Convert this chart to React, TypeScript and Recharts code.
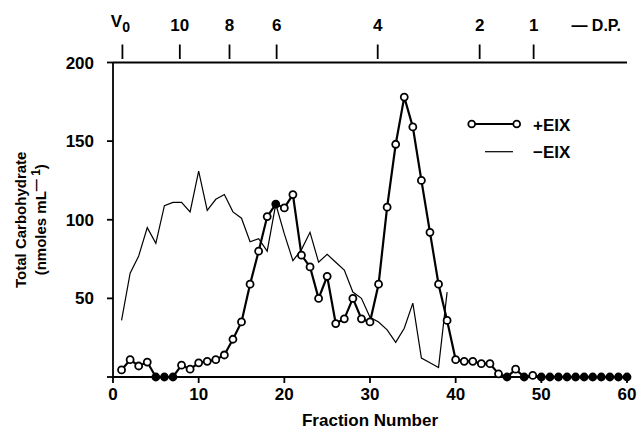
import React from 'react';
import { LineChart, Line, XAxis, YAxis, Legend } from 'recharts';

const fractions = [
  1, 2, 3, 4, 5, 6, 7, 8, 9, 10,
  11, 12, 13, 14, 15, 16, 17, 18, 19, 20,
  21, 22, 23, 24, 25, 26, 27, 28, 29, 30,
  31, 32, 33, 34, 35, 36, 37, 38, 39, 40,
  41, 42, 43, 44, 45, 46, 47, 48, 49, 50,
  51, 52, 53, 54, 55, 56, 57, 58, 59, 60,
];

const plusEIX = [
  4.5, 11, 7, 9.5, 0, 0, 0, 7.5, 5, 9,
  10, 11, 14, 24, 35, 59, 80, 102, 110, 107.5,
  116, 77.5, 70, 50, 64, 34, 37, 50, 37, 35,
  59, 108, 148, 178, 159, 125, 92, 59, 36, 11,
  10, 10, 8.5, 8.5, 2, 0, 5, 0, 1, 0,
  0, 0, 0, 0, 0, 0, 0, 0, 0, 0,
];

const minusEIX = [
  36, 66, 77, 95, 85, 109, 111, 111, 105, 131,
  106, 113, 116, 105, 101, 86, 88, 80, 110, 91,
  74, 81, 92, 73, 78, 73, 68, 54, 50, 38,
  35, 30, 22, 31, 47, 12, 9, 6, 54,
];

const filledFractions = [5, 6, 7, 19, 46, 48, 50, 51, 52, 53, 54, 55, 56, 57, 58, 59, 60];

const xTicks = [0, 10, 20, 30, 40, 50, 60];
const yTicks = [0, 50, 100, 150, 200];
const dpTickPositions = [1.1, 7.8, 13.6, 19.1, 30.9, 42.8, 49.1, 56.4];
const dpTickLabels = ['V0', '10', '8', '6', '4', '2', '1', '— D.P.'];

const seriesNames = { plus: '+EIX', minus: '−EIX' };

const data = fractions.map((f, i) => ({
  fraction: f,
  plus: plusEIX[i],
  minus: i < minusEIX.length ? minusEIX[i] : null,
}));

const FONT = "'Liberation Sans', Arial, sans-serif";

function TopTick(props: any) {
  const { x, y, payload } = props;
  const idx = dpTickPositions.indexOf(payload.value);
  const label = dpTickLabels[idx];
  if (label === '— D.P.') {
    return (
      <text x={x} y={y - 32} textAnchor="middle" fontFamily={FONT} fontWeight={700} fontSize={16} fill="#000">
        {label}
      </text>
    );
  }
  const isV0 = label === 'V0';
  return (
    <g>
      <line x1={x} x2={x} y1={y - 18} y2={y - 3.5} stroke="#000" strokeWidth={1.8} />
      {isV0 ? (
        <text x={x - 2} y={y - 36} textAnchor="middle" fontFamily={FONT} fontWeight={700} fontSize={17} fill="#000">
          <tspan>V</tspan>
          <tspan dy={5} fontSize={14}>0</tspan>
        </text>
      ) : (
        <text x={x} y={y - 31.5} textAnchor="middle" fontFamily={FONT} fontWeight={700} fontSize={17} fill="#000">
          {label}
        </text>
      )}
    </g>
  );
}

function YTitle(props: any) {
  const vb = props.viewBox || { x: 0, y: 62, width: 113, height: 315 };
  const cy = vb.y + vb.height / 2;
  const x1 = 26;
  const x2 = 46;
  return (
    <g fontFamily={FONT} fontWeight={700} fontSize={15} fill="#000">
      <text x={x1} y={cy} textAnchor="middle" transform={`rotate(-90, ${x1}, ${cy})`}>
        Total Carbohydrate
      </text>
      <text x={x2} y={cy} textAnchor="middle" transform={`rotate(-90, ${x2}, ${cy})`}>
        <tspan>(nmoles mL</tspan>
        <tspan dy={-6} fontSize={12}>— 1</tspan>
        <tspan dy={6}>)</tspan>
      </text>
    </g>
  );
}

function LegendContent(props: any) {
  const payload: any[] = props.payload || [];
  const nameOf = (key: string) => {
    const p = payload.find((e) => e.dataKey === key);
    return p && p.value ? p.value : (seriesNames as any)[key];
  };
  return (
    <svg width={140} height={60} style={{ overflow: 'visible' }}>
      <line x1={15} x2={53} y1={19} y2={19} stroke="#000" strokeWidth={2} />
      <circle cx={11.7} cy={19} r={3.4} fill="#fff" stroke="#000" strokeWidth={1.8} />
      <circle cx={56.7} cy={19} r={3.4} fill="#fff" stroke="#000" strokeWidth={1.8} />
      <text x={73} y={25.5} fontFamily={FONT} fontWeight={700} fontSize={17} fill="#000">
        {nameOf('plus')}
      </text>
      <line x1={25} x2={53} y1={46.7} y2={46.7} stroke="#000" strokeWidth={1.2} />
      <text x={73} y={53} fontFamily={FONT} fontWeight={700} fontSize={17} fill="#000">
        {nameOf('minus')}
      </text>
    </svg>
  );
}

const renderDot = (props: any) => {
  const { cx, cy, payload, index } = props;
  if (cx == null || cy == null || payload == null || payload.plus == null) {
    return <g key={`dot-${index}`} />;
  }
  const filled = filledFractions.includes(payload.fraction);
  return (
    <circle
      key={`dot-${index}`}
      cx={cx}
      cy={cy}
      r={3.5}
      fill={filled ? '#000' : '#fff'}
      stroke="#000"
      strokeWidth={1.8}
    />
  );
};

const tickStyle = { fill: '#000', fontSize: 17, fontWeight: 700, fontFamily: FONT };

export default function App() {
  return (
    <div style={{ position: 'absolute', left: 0, top: 0, width: 637, height: 429, background: '#fff' }}>
      <LineChart
        width={637}
        height={429}
        data={data}
        margin={{ top: 12.5, right: 10, bottom: 0, left: 0 }}
      >
        <XAxis
          dataKey="fraction"
          type="number"
          domain={[0, 60]}
          ticks={xTicks}
          interval={0}
          height={52}
          tickSize={6}
          tickMargin={5}
          stroke="#000"
          strokeWidth={1.8}
          tick={tickStyle}
          label={{
            value: 'Fraction Number',
            position: 'insideBottom',
            offset: 3,
            fill: '#000',
            fontSize: 17,
            fontWeight: 700,
            fontFamily: FONT,
          }}
        />
        <XAxis
          xAxisId="inner"
          dataKey="fraction"
          type="number"
          domain={[0, 60]}
          ticks={xTicks}
          interval={0}
          mirror
          axisLine={false}
          tick={false}
          tickSize={6}
          stroke="#000"
          strokeWidth={1.8}
        />
        <XAxis
          xAxisId="top"
          orientation="top"
          dataKey="fraction"
          type="number"
          domain={[0, 60]}
          ticks={dpTickPositions}
          interval={0}
          height={50}
          tickLine={false}
          tickSize={0}
          tickMargin={0}
          stroke="#000"
          strokeWidth={1.8}
          tick={<TopTick />}
        />
        <YAxis
          type="number"
          domain={[0, 200]}
          ticks={yTicks}
          interval={0}
          width={113}
          tickSize={6}
          tickMargin={13}
          stroke="#000"
          strokeWidth={1.8}
          tick={tickStyle}
          tickFormatter={(v: number) => (v === 0 ? '' : String(v))}
          label={<YTitle />}
        />
        <YAxis
          yAxisId="inner"
          type="number"
          domain={[0, 200]}
          ticks={yTicks}
          interval={0}
          mirror
          axisLine={false}
          tick={false}
          tickSize={6}
          stroke="#000"
          strokeWidth={1.8}
        />
        <YAxis
          yAxisId="right"
          orientation="right"
          type="number"
          domain={[0, 200]}
          width={0}
          tick={false}
          tickLine={false}
          stroke="#000"
          strokeWidth={1.8}
        />
        <Legend
          layout="vertical"
          align="center"
          verticalAlign="middle"
          content={<LegendContent />}
          wrapperStyle={{ position: 'absolute', left: 460, top: 105, width: 140, height: 60 }}
        />
        <Line
          dataKey="minus"
          name={seriesNames.minus}
          stroke="#000"
          strokeWidth={1.2}
          dot={false}
          activeDot={false}
          connectNulls={false}
          type="linear"
          isAnimationActive={false}
        />
        <Line
          dataKey="plus"
          name={seriesNames.plus}
          stroke="#000"
          strokeWidth={2.2}
          dot={renderDot}
          activeDot={false}
          type="linear"
          isAnimationActive={false}
        />
      </LineChart>
    </div>
  );
}
